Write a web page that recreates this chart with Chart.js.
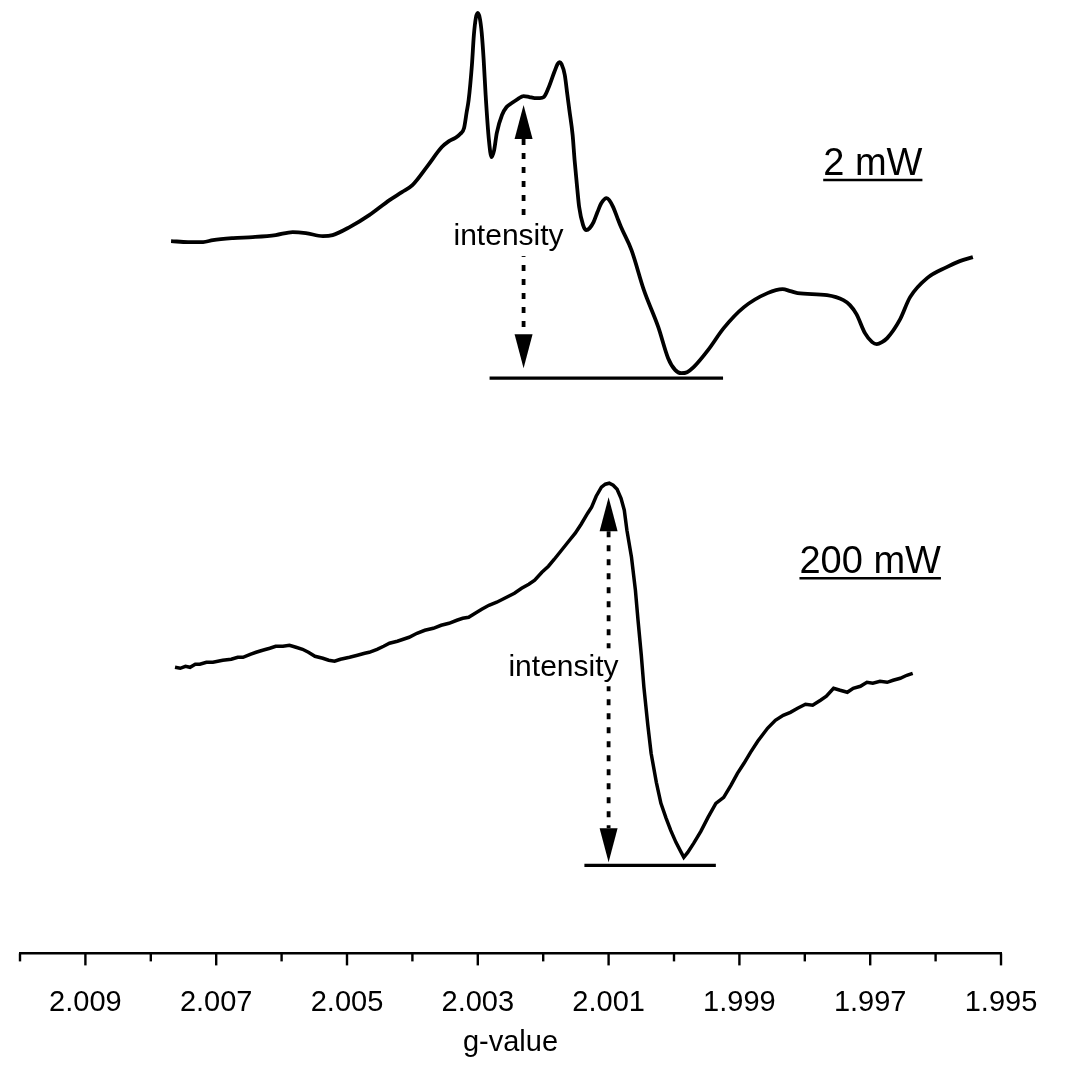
<!DOCTYPE html>
<html>
<head>
<meta charset="utf-8">
<script src="https://cdn.jsdelivr.net/npm/chart.js@4.4.1/dist/chart.umd.min.js"></script>
<style>
  html, body { margin: 0; padding: 0; background: #ffffff; }
  #c { display: block; }
</style>
</head>
<body>
<canvas id="c" width="1073" height="1067"></canvas>
<script>
// ---------- data (g-value vs. EPR signal, arbitrary units with vertical offset) ----------
const gTop = [2.00769,2.00743,2.00720,2.00705,2.00674,2.00644,2.00609,2.00583,2.00563,2.00537,2.00522,2.00496,2.00466,2.00435,2.00416,2.00400,2.00377,2.00355,2.00344,2.00335,2.00327,2.00321,2.00317,2.00314,2.00309,2.00306,2.00303,2.00300,2.00297,2.00294,2.00291,2.00288,2.00283,2.00279,2.00275,2.00271,2.00263,2.00256,2.00248,2.00239,2.00230,2.00221,2.00213,2.00205,2.00199,2.00192,2.00183,2.00178,2.00175,2.00172,2.00167,2.00163,2.00160,2.00155,2.00152,2.00148,2.00145,2.00139,2.00134,2.00129,2.00123,2.00117,2.00111,2.00103,2.00099,2.00093,2.00087,2.00081,2.00065,2.00046,2.00024,2.00009,1.99998,1.99989,1.99980,1.99970,1.99948,1.99924,1.99893,1.99857,1.99834,1.99822,1.99811,1.99766,1.99741,1.99731,1.99721,1.99708,1.99697,1.99690,1.99682,1.99674,1.99655,1.99639,1.99613,1.99583,1.99563,1.99543];
const iTop = [71.2,71.1,71.1,71.3,71.5,71.6,71.8,72.1,72.0,71.7,71.8,72.6,73.8,75.3,76.1,76.8,78.7,80.6,81.2,81.5,81.9,82.5,84.1,85.3,88.8,91.8,93.5,94.0,93.5,92.0,89.3,85.8,81.3,79.6,80.3,82.0,83.8,84.6,85.0,85.4,85.7,85.6,85.5,85.5,85.6,86.5,88.1,88.9,89.1,88.9,87.8,85.8,84.3,81.8,79.3,76.5,74.6,72.8,72.3,72.5,73.1,74.1,75.0,75.5,75.3,74.6,73.6,72.6,70.3,66.3,62.6,59.5,58.3,58.0,58.1,58.6,60.3,62.5,64.6,66.0,66.4,66.2,66.0,65.8,65.3,64.8,63.9,62.0,61.1,60.9,61.1,61.5,63.3,65.6,67.5,68.6,69.2,69.6];

const gBottom = [2.00763,2.00755,2.00747,2.00740,2.00732,2.00725,2.00715,2.00705,2.00690,2.00677,2.00667,2.00659,2.00648,2.00639,2.00629,2.00618,2.00609,2.00598,2.00588,2.00578,2.00568,2.00559,2.00549,2.00537,2.00528,2.00519,2.00510,2.00496,2.00484,2.00473,2.00466,2.00454,2.00444,2.00435,2.00423,2.00414,2.00405,2.00393,2.00381,2.00368,2.00356,2.00344,2.00332,2.00323,2.00314,2.00304,2.00294,2.00283,2.00271,2.00259,2.00244,2.00233,2.00222,2.00213,2.00202,2.00192,2.00183,2.00172,2.00161,2.00151,2.00142,2.00132,2.00126,2.00119,2.00111,2.00105,2.00099,2.00093,2.00087,2.00081,2.00076,2.00072,2.00065,2.00059,2.00055,2.00050,2.00046,2.00040,2.00035,2.00027,2.00020,2.00012,2.00005,1.99997,1.99989,1.99985,1.99979,1.99970,1.99959,1.99948,1.99936,1.99924,1.99913,1.99903,1.99893,1.99883,1.99872,1.99857,1.99845,1.99833,1.99822,1.99811,1.99799,1.99788,1.99776,1.99767,1.99756,1.99746,1.99735,1.99726,1.99715,1.99705,1.99696,1.99685,1.99674,1.99665,1.99654,1.99644,1.99635];
const iBottom = [28.6,28.5,28.7,28.6,28.9,28.9,29.1,29.1,29.3,29.4,29.6,29.6,29.9,30.1,30.3,30.5,30.7,30.7,30.8,30.6,30.4,30.1,29.7,29.5,29.3,29.2,29.4,29.6,29.8,30.0,30.1,30.4,30.7,31.0,31.2,31.4,31.6,32.0,32.3,32.5,32.8,33.0,33.3,33.5,33.6,34.0,34.4,34.8,35.1,35.5,36.0,36.5,36.9,37.3,38.1,38.7,39.4,40.3,41.2,42.0,42.9,44.0,44.6,45.7,46.6,46.9,47.0,46.8,46.4,45.5,44.3,42.3,39.6,36.3,33.3,29.8,26.6,22.8,20.0,17.1,15.0,13.5,12.3,11.1,10.1,9.6,10.1,11.0,12.2,13.6,15.0,15.6,16.8,18.0,19.0,20.1,21.2,22.5,23.3,23.8,24.1,24.5,24.9,24.8,25.3,25.7,26.5,26.3,26.1,26.5,26.7,27.1,27.0,27.2,27.1,27.3,27.5,27.8,28.0];

const tickLabels = ['2.009','2.007','2.005','2.003','2.001','1.999','1.997','1.995'];
const xTitle = 'g-value';

// "intensity" reference lines (zero level under each spectrum)
const refTopG = [2.00282, 1.99925];
const refTopI = [57.5, 57.5];
const refBottomG = [2.00137, 1.99936];
const refBottomI = [8.8, 8.8];

// double arrows marking the intensity
const arrowG = [2.00230, 2.00100];
const arrowHighI = [84.8, 45.6];
const arrowLowI = [58.5, 9.1];
const arrowText = ['intensity', 'intensity'];
const arrowTextI = [71.6, 28.6];
const arrowTextG = [2.00253, 2.00169];

// power labels
const powerLabels = ['2 mW', '200 mW'];
const powerG = [1.99696, 1.99700];
const powerI = [77.8, 38.0];

// ---------- chart ----------
const FONT = '"Liberation Sans", Arial, Helvetica, sans-serif';
const toXY = (gs, is) => gs.map((g, k) => ({ x: g, y: is[k] }));

const overlay = {
  id: 'overlay',
  afterDatasetsDraw(chart) {
    const ctx = chart.ctx;
    const xs = chart.scales.x, ys = chart.scales.y;
    ctx.save();
    ctx.fillStyle = '#000';
    ctx.strokeStyle = '#000';
    const headL = 34, headW = 9;
    for (let k = 0; k < arrowG.length; k++) {
      const px = xs.getPixelForValue(arrowG[k]);
      const yHi = ys.getPixelForValue(arrowHighI[k]);
      const yLo = ys.getPixelForValue(arrowLowI[k]);
      ctx.setLineDash([6, 8]);
      ctx.lineWidth = 3.8;
      ctx.beginPath();
      ctx.moveTo(px, yHi + headL);
      ctx.lineTo(px, yLo - headL);
      ctx.stroke();
      ctx.setLineDash([]);
      ctx.beginPath();
      ctx.moveTo(px, yHi);
      ctx.lineTo(px - headW, yHi + headL);
      ctx.lineTo(px + headW, yHi + headL);
      ctx.closePath();
      ctx.fill();
      ctx.beginPath();
      ctx.moveTo(px, yLo);
      ctx.lineTo(px - headW, yLo - headL);
      ctx.lineTo(px + headW, yLo - headL);
      ctx.closePath();
      ctx.fill();
      ctx.font = '30px ' + FONT;
      const tx = xs.getPixelForValue(arrowTextG[k]);
      const ty = ys.getPixelForValue(arrowTextI[k]);
      const w = ctx.measureText(arrowText[k]).width;
      ctx.fillStyle = '#fff';
      ctx.fillRect(tx - w / 2 - 2, ty - 19, w + 4, 38);
      ctx.fillStyle = '#000';
      ctx.textAlign = 'center';
      ctx.textBaseline = 'middle';
      ctx.fillText(arrowText[k], tx, ty);
    }
    ctx.font = '38px ' + FONT;
    ctx.textAlign = 'center';
    ctx.textBaseline = 'alphabetic';
    for (let k = 0; k < powerLabels.length; k++) {
      const tx = xs.getPixelForValue(powerG[k]);
      const ty = ys.getPixelForValue(powerI[k]);
      const w = ctx.measureText(powerLabels[k]).width;
      ctx.fillText(powerLabels[k], tx, ty);
      ctx.lineWidth = 2.4;
      ctx.beginPath();
      ctx.moveTo(tx - w / 2, ty + 5);
      ctx.lineTo(tx + w / 2, ty + 5);
      ctx.stroke();
    }
    ctx.restore();
  },
  afterDraw(chart) {
    const ctx = chart.ctx;
    const xs = chart.scales.x;
    ctx.save();
    ctx.strokeStyle = '#000';
    ctx.lineWidth = 2.4;
    xs.ticks.forEach(t => {
      const lab = t.value.toFixed(3);
      const major = tickLabels.includes(lab);
      const px = xs.getPixelForValue(t.value);
      ctx.beginPath();
      ctx.moveTo(px, xs.top);
      ctx.lineTo(px, xs.top + (major ? 12 : 8));
      ctx.stroke();
    });
    ctx.restore();
  }
};

new Chart(document.getElementById('c'), {
  type: 'line',
  data: {
    datasets: [
      { label: '2 mW', data: toXY(gTop, iTop), borderColor: '#000', borderWidth: 3.8, pointRadius: 0, tension: 0.3, cubicInterpolationMode: 'monotone', fill: false },
      { label: '200 mW', data: toXY(gBottom, iBottom), borderColor: '#000', borderWidth: 3.5, pointRadius: 0, tension: 0, fill: false },
      { label: 'ref top', data: toXY(refTopG, refTopI), borderColor: '#000', borderWidth: 3.2, pointRadius: 0, fill: false },
      { label: 'ref bottom', data: toXY(refBottomG, refBottomI), borderColor: '#000', borderWidth: 3.2, pointRadius: 0, fill: false }
    ]
  },
  options: {
    responsive: false,
    animation: false,
    devicePixelRatio: 1,
    layout: { padding: { left: 13, right: 72, top: 0, bottom: 7 } },
    plugins: { legend: { display: false }, tooltip: { enabled: false } },
    scales: {
      x: {
        type: 'linear',
        reverse: true,
        min: 1.995,
        max: 2.010,
        border: { display: true, color: '#000', width: 2.6 },
        grid: { display: true, drawOnChartArea: false, drawTicks: true, tickLength: 12, tickColor: 'rgba(0,0,0,0)' },
        ticks: {
          stepSize: 0.001,
          autoSkip: false,
          maxRotation: 0,
          padding: 20,
          color: '#000',
          font: { family: FONT, size: 29 },
          callback: (v) => { const s = Number(v).toFixed(3); return tickLabels.includes(s) ? s : ''; }
        },
        title: { display: true, text: xTitle, color: '#000', font: { family: FONT, size: 29 }, padding: { top: -15, bottom: 0 } }
      },
      y: { type: 'linear', display: false, min: 0, max: 95.3 }
    }
  },
  plugins: [overlay]
});
</script>
</body>
</html>
